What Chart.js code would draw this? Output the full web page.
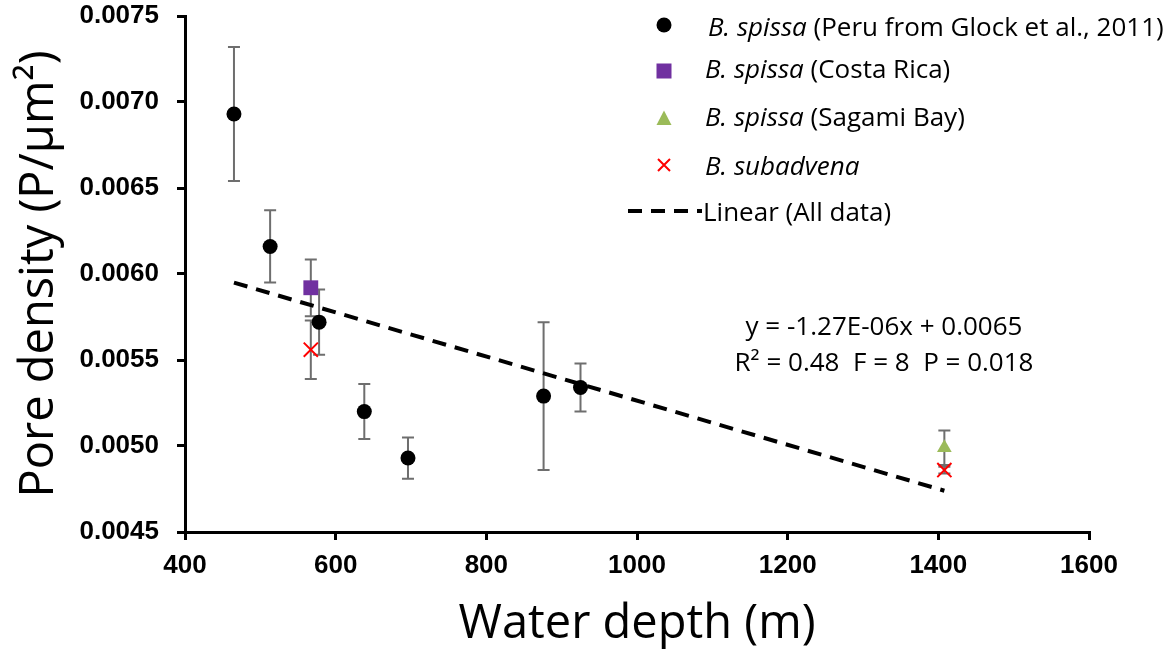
<!DOCTYPE html>
<html>
<head>
<meta charset="utf-8">
<script src="https://cdn.jsdelivr.net/npm/chart.js@4/dist/chart.umd.min.js"></script>
<style>
  html, body { margin: 0; padding: 0; background: #fff; }
  #wrap { position: relative; width: 1170px; height: 656px; }
  canvas { display: block; }
  .row { position: absolute; left: 640px; height: 32px; white-space: nowrap; font-family: "Open Sans", "Noto Sans", sans-serif; font-size: 26px; line-height: 32px; color: #000; }
  .row svg { position: absolute; left: 0; }
  .note { position: absolute; font-family: "Open Sans", "Noto Sans", sans-serif; font-size: 26px; line-height: 32px; white-space: nowrap; transform: translateX(-50%); }
</style>
</head>
<body>
<div id="wrap">
  <canvas id="chart" width="1170" height="656"></canvas>
  <div class="row" style="top:10px">
    <svg width="48" height="32" style="top:-1px"><circle cx="24" cy="16" r="7.5" fill="#000"/></svg>
    <span style="margin-left:68px"><i>B. spissa</i> (Peru from Glock et al., 2011)</span>
  </div>
  <div class="row" style="top:52px">
    <svg width="48" height="32" style="top:3px"><rect x="16.5" y="8.5" width="15" height="15" fill="#7030A0"/></svg>
    <span style="margin-left:65px"><i>B. spissa</i> (Costa Rica)</span>
  </div>
  <div class="row" style="top:100px">
    <svg width="48" height="32" style="top:2px"><polygon points="24,8.5 31.5,23 16.5,23" fill="#9BBB59"/></svg>
    <span style="margin-left:65px"><i>B. spissa</i> (Sagami Bay)</span>
  </div>
  <div class="row" style="top:149px">
    <svg width="48" height="32" style="top:0"><path d="M18 10 L30 22 M30 10 L18 22" stroke="#FF0000" stroke-width="2"/></svg>
    <span style="margin-left:65px"><i>B. subadvena</i></span>
  </div>
  <div class="row" style="top:195px;left:626px">
    <svg width="76" height="32" style="top:1px"><line x1="2" y1="15" x2="76" y2="15" stroke="#000" stroke-width="4" stroke-dasharray="14,9"/></svg>
    <span style="margin-left:77px">Linear (All data)</span>
  </div>
  <div class="note" style="left:884px;top:309px">y = -1.27E-06x + 0.0065</div>
  <div class="note" style="left:884px;top:345px">R² = 0.48&nbsp;&nbsp;F = 8&nbsp;&nbsp;P = 0.018</div>
</div>
<script>
// values
const peruDepth   = [465, 513, 578, 638, 696, 876, 925];
const peruDensity = [0.00693, 0.00616, 0.00572, 0.00520, 0.00493, 0.00529, 0.00534];
const peruErr     = [0.00039, 0.00021, 0.00019, 0.00016, 0.00012, 0.00043, 0.00014];

const costaDepth   = [567];
const costaDensity = [0.00592];
const costaErr     = [0.000165];

const sagamiDepth   = [1408];
const sagamiDensity = [0.00499];
const sagamiErr     = [0.00010];

const subDepth   = [567, 1408];
const subDensity = [0.00556, 0.00486];
const subErr     = [0.00017, 0.00002];

const trendDepth   = [465, 1408];
const trendDensity = [0.00595, 0.00474];

const xTicks = [400, 600, 800, 1000, 1200, 1400, 1600];
const yTicks = [0.0045, 0.0050, 0.0055, 0.0060, 0.0065, 0.0070, 0.0075];

const toPts = (xs, ys) => xs.map((x, i) => ({ x, y: ys[i] }));

// error bars drawn through the chart scales
const errorBars = {
  id: 'errorBars',
  beforeDatasetsDraw(chart) {
    const { ctx, scales: { x, y } } = chart;
    ctx.save();
    ctx.strokeStyle = '#6E6E6E';
    ctx.lineWidth = 2;
    chart.data.datasets.forEach(ds => {
      if (!ds.err) return;
      ds.data.forEach((p, i) => {
        const px = x.getPixelForValue(p.x);
        const top = y.getPixelForValue(p.y + ds.err[i]);
        const bot = y.getPixelForValue(p.y - ds.err[i]);
        ctx.beginPath();
        ctx.moveTo(px, top); ctx.lineTo(px, bot);
        ctx.moveTo(px - 6, top); ctx.lineTo(px + 6, top);
        ctx.moveTo(px - 6, bot); ctx.lineTo(px + 6, bot);
        ctx.stroke();
      });
    });
    ctx.restore();
  }
};

const tickFont  = { family: '"Liberation Sans", Arial, sans-serif', size: 26, weight: 'bold' };
const titleFont = { family: '"Open Sans", "Noto Sans", sans-serif', size: 47 };

new Chart(document.getElementById('chart'), {
  type: 'scatter',
  data: {
    datasets: [
      { label: 'Linear (All data)', data: toPts(trendDepth, trendDensity), showLine: true, borderColor: '#000', borderWidth: 4, borderDash: [14, 9], pointRadius: 0, fill: false },
      { label: 'B. spissa (Peru)', data: toPts(peruDepth, peruDensity), err: peruErr, pointStyle: 'circle', pointRadius: 7.5, backgroundColor: '#000', borderColor: '#000', borderWidth: 0 },
      { label: 'B. spissa (Costa Rica)', data: toPts(costaDepth, costaDensity), err: costaErr, pointStyle: 'rect', pointRadius: 10.5, backgroundColor: '#7030A0', borderColor: '#7030A0', borderWidth: 0 },
      { label: 'B. spissa (Sagami Bay)', data: toPts(sagamiDepth, sagamiDensity), err: sagamiErr, pointStyle: 'triangle', pointRadius: 8.5, backgroundColor: '#9BBB59', borderColor: '#9BBB59', borderWidth: 0 },
      { label: 'B. subadvena', data: toPts(subDepth, subDensity), err: subErr, pointStyle: 'crossRot', pointRadius: 10, backgroundColor: '#FF0000', borderColor: '#FF0000', borderWidth: 2 },
    ],
  },
  options: {
    responsive: false,
    animation: false,
    devicePixelRatio: 1,
    layout: { padding: { top: 16, right: 81, left: 0, bottom: 0 } },
    plugins: { legend: { display: false }, tooltip: { enabled: false } },
    scales: {
      x: {
        type: 'linear', min: 400, max: 1600,
        afterBuildTicks: s => { s.ticks = xTicks.map(v => ({ value: v })); },
        afterFit: s => { s.height = 124; },
        border: { color: '#000', width: 3 },
        grid: { drawOnChartArea: false, drawTicks: true, tickLength: 8, color: '#000', lineWidth: 3 },
        ticks: { color: '#000', padding: 10, callback: v => String(v), font: tickFont },
        title: { display: true, text: 'Water depth (m)', color: '#000', padding: { top: 0, bottom: 3 }, font: titleFont },
      },
      y: {
        type: 'linear', min: 0.0045, max: 0.0075,
        afterBuildTicks: s => { s.ticks = yTicks.map(v => ({ value: v })); },
        afterFit: s => { s.width = 185; s.paddingTop = 0; s.paddingBottom = 0; },
        border: { color: '#000', width: 3 },
        grid: { drawOnChartArea: false, drawTicks: true, tickLength: 8, color: '#000', lineWidth: 3 },
        ticks: { color: '#000', padding: 18, callback: v => v.toFixed(4), font: tickFont },
        title: { display: true, text: 'Pore density (P/µm²)', color: '#000', padding: { top: 11, bottom: 0 }, font: titleFont },
      },
    },
  },
  plugins: [errorBars],
});
</script>
</body>
</html>
